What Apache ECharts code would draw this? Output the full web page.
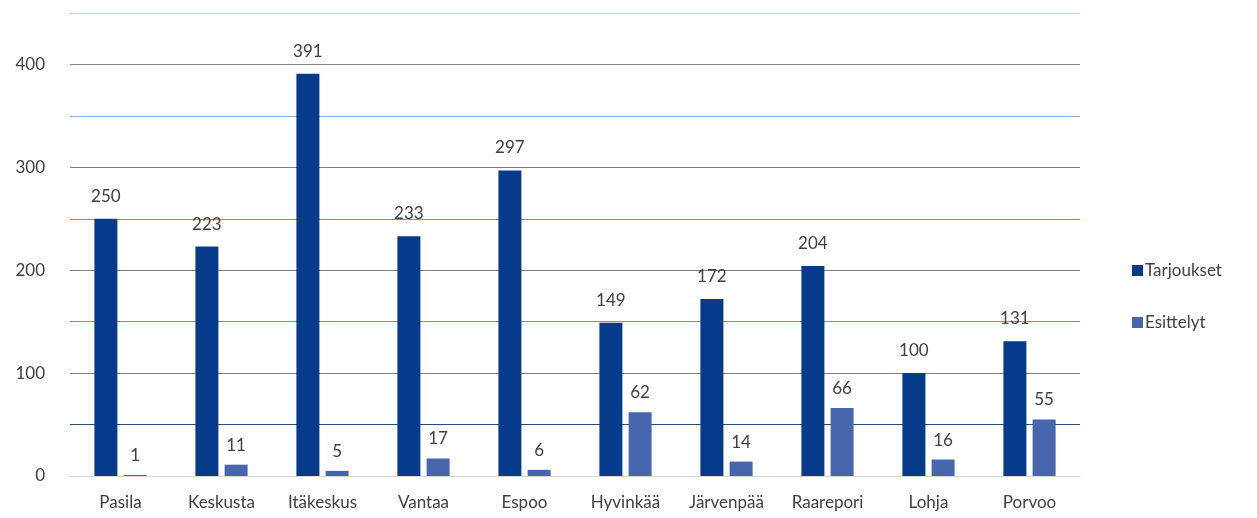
<!DOCTYPE html>
<html>
<head>
<meta charset="utf-8">
<script src="https://cdn.jsdelivr.net/npm/echarts@6/dist/echarts.min.js"></script>
<style>
  html, body { margin: 0; padding: 0; background: #fff; }
  #chart { width: 1257px; height: 518px; }
</style>
</head>
<body>
<div id="chart"></div>
<script>
const categories = ['Pasila', 'Keskusta', 'Itäkeskus', 'Vantaa', 'Espoo', 'Hyvinkää', 'Järvenpää', 'Raarepori', 'Lohja', 'Porvoo']
const tarjoukset = [250, 223, 391, 233, 297, 149, 172, 204, 100, 131]
const esittelyt = [1, 11, 5, 17, 6, 62, 14, 66, 16, 55]

const font = 'Lato'
const textColor = '#404040'

const chart = echarts.init(document.getElementById('chart'))
chart.setOption({
  animation: false,
  grid: { left: 70, right: 177, top: 13, bottom: 42 },
  legend: {
    orient: 'vertical',
    left: 1127,
    top: 257,
    itemWidth: 11,
    itemHeight: 11,
    itemGap: 35,
    icon: 'rect',
    textStyle: { fontFamily: font, fontSize: 17, color: textColor, padding: [0, 0, 0, -3] }
  },
  xAxis: {
    type: 'category',
    data: categories,
    axisTick: { show: false },
    axisLine: { lineStyle: { color: '#d9d9d9' } },
    axisLabel: { interval: 0, fontFamily: font, fontSize: 17, color: textColor, margin: 18 }
  },
  yAxis: {
    type: 'value',
    min: 0,
    max: 450,
    interval: 50,
    axisLabel: {
      fontFamily: font,
      fontSize: 17,
      color: textColor,
      margin: 25,
      formatter: (v) => (v % 100 === 0 ? String(v) : '')
    },
    splitLine: {
      lineStyle: {
        color: ['#d9d9d9', '#2a4a78', '#7f7f7f', '#6a95c2', '#7f7f7f', '#6a95c2', '#7f7f7f', '#8db0d4', '#8a8a8a', '#b9d0e6'],
        width: 1
      }
    }
  },
  series: [
    {
      name: 'Tarjoukset',
      type: 'bar',
      data: tarjoukset,
      barWidth: 23,
      barGap: '27%',
      itemStyle: { color: '#063b8c' },
      label: { show: true, position: 'top', distance: 14, fontFamily: font, fontSize: 17, color: textColor }
    },
    {
      name: 'Esittelyt',
      type: 'bar',
      data: esittelyt,
      barWidth: 23,
      itemStyle: { color: '#4766ad' },
      label: { show: true, position: 'top', distance: 11, fontFamily: font, fontSize: 17, color: textColor }
    }
  ]
})
</script>
</body>
</html>
